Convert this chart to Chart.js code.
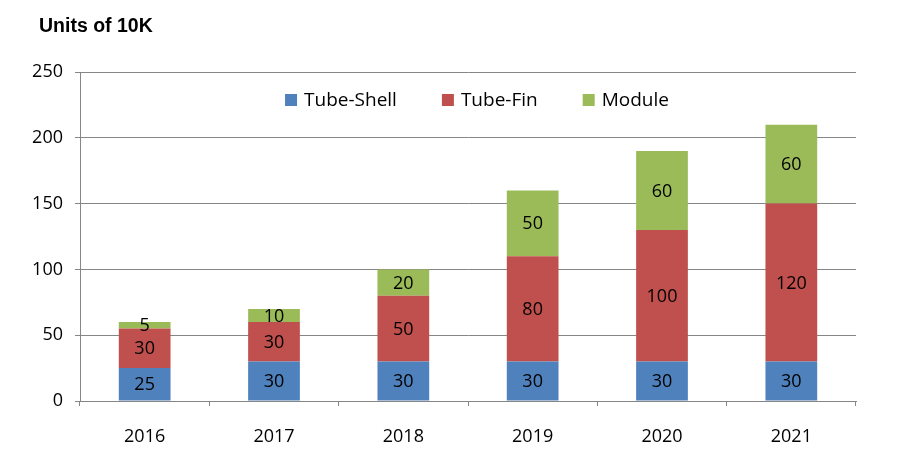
<!DOCTYPE html>
<html>
<head>
<meta charset="utf-8">
<script src="https://cdn.jsdelivr.net/npm/chart.js@4.4.1/dist/chart.umd.min.js"></script>
<style>
  body { margin: 0; background: #fff; }
  #wrap { width: 917px; height: 464px; position: relative; }
</style>
</head>
<body>
<div id="wrap"><canvas id="unitsChart"></canvas></div>
<script>
// data
const years = ['2016', '2017', '2018', '2019', '2020', '2021'];
const tubeShell = [25, 30, 30, 30, 30, 30];
const tubeFin = [30, 30, 50, 80, 100, 120];
const moduleUnits = [5, 10, 20, 50, 60, 60];
const yTicks = [0, 50, 100, 150, 200, 250];

const gridColor = '#868686';
const numFont = "'Open Sans', sans-serif";

// draws the title, the legend inside the plot and the numbers in the bars
const extrasPlugin = {
    id: 'extras',
    afterDatasetsDraw(chart) {
        const ctx = chart.ctx;
        const area = chart.chartArea;
        ctx.save();

        // value labels, centred in each segment
        ctx.fillStyle = '#000';
        ctx.font = '18px ' + numFont;
        ctx.textAlign = 'center';
        ctx.textBaseline = 'middle';
        chart.data.datasets.forEach((ds, i) => {
            const meta = chart.getDatasetMeta(i);
            meta.data.forEach((bar, j) => {
                const midY = (bar.y + bar.base) / 2;
                ctx.fillText(String(ds.data[j]), bar.x, midY + 1);
            });
        });

        // title
        ctx.font = "bold 19.5px 'Liberation Sans', Arial, sans-serif";
        ctx.textAlign = 'left';
        ctx.textBaseline = 'alphabetic';
        ctx.fillText('Units of 10K', 39, 32);

        // legend
        ctx.font = '19px ' + numFont;
        const box = 12, boxGap = 7, itemGap = 45;
        const items = chart.data.datasets.map(ds => ({
            label: ds.label,
            color: ds.backgroundColor,
            w: ctx.measureText(ds.label).width
        }));
        let total = 0;
        items.forEach((it, k) => {
            total += box + boxGap + it.w + (k < items.length - 1 ? itemGap : 0);
        });
        const cx = (area.left + area.right) / 2 + 9;
        let x = cx - total / 2;
        const cy = 100;
        ctx.textBaseline = 'middle';
        items.forEach(it => {
            ctx.fillStyle = it.color;
            ctx.fillRect(x, cy - box / 2, box, box);
            ctx.fillStyle = '#000';
            ctx.fillText(it.label, x + box + boxGap, cy + 1);
            x += box + boxGap + it.w + itemGap;
        });
        ctx.restore();
    }
};

const ctx = document.getElementById('unitsChart').getContext('2d');
new Chart(ctx, {
    type: 'bar',
    data: {
        labels: years,
        datasets: [
            { label: 'Tube-Shell', data: tubeShell, backgroundColor: '#4F81BD' },
            { label: 'Tube-Fin', data: tubeFin, backgroundColor: '#C0504D' },
            { label: 'Module', data: moduleUnits, backgroundColor: '#9BBB59' }
        ]
    },
    options: {
        responsive: true,
        maintainAspectRatio: false,
        devicePixelRatio: 1,
        animation: false,
        layout: { padding: { top: 72, right: 61, bottom: 0, left: 0 } },
        datasets: {
            bar: { barPercentage: 0.4, categoryPercentage: 1.0, borderWidth: 0 }
        },
        plugins: {
            legend: { display: false },
            title: { display: false },
            tooltip: { enabled: false }
        },
        scales: {
            x: {
                stacked: true,
                afterFit(scale) { scale.height = 63; },
                grid: {
                    offset: true,
                    drawOnChartArea: false,
                    drawTicks: true,
                    tickLength: 5,
                    color: gridColor
                },
                border: { color: gridColor },
                ticks: { color: '#000', padding: 20, font: { family: numFont, size: 18 } }
            },
            y: {
                stacked: true,
                min: 0,
                max: 250,
                afterFit(scale) { scale.width = 80; },
                afterBuildTicks(scale) { scale.ticks = yTicks.map(v => ({ value: v })); },
                grid: { color: gridColor, tickLength: 5 },
                border: { color: gridColor },
                ticks: { color: '#000', padding: 12, font: { family: numFont, size: 18 } }
            }
        }
    },
    plugins: [extrasPlugin]
});
</script>
</body>
</html>
